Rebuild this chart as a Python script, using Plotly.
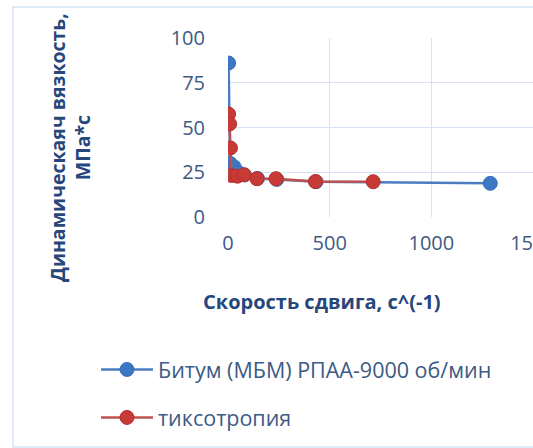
import plotly.graph_objects as go

# Data
bitum_x = [3, 10, 30, 50, 80, 145, 240, 433, 1290]
bitum_y = [86, 30, 28, 25, 23.5, 21.5, 21, 19.7, 18.8]
thixo_x = [3, 8, 12, 17, 46, 80, 142, 236, 430, 714]
thixo_y = [57.5, 52, 38.6, 23.2, 22.8, 23.6, 21.4, 21.4, 19.8, 19.7]

x_ticks = [0, 500, 1000, 1500]
y_ticks = [0, 25, 50, 75, 100]

names = ["Битум (МБМ) РПАА-9000 об/мин", "тиксотропия"]
x_title = "Скорость сдвига, с^(-1)"
y_title = "Динамическаяч вязкость,<br>МПа*с"

W, H = 533, 448
L, R, T, B = 228, 0, 38, 231

fig = go.Figure()
fig.add_trace(go.Scatter(
    x=bitum_x, y=bitum_y, mode="lines+markers", name=names[0], legendgroup="a",
    line=dict(color="#4A7CC2", width=2.5),
    marker=dict(color="#3C77C6", size=14, line=dict(color="#3A6FB5", width=1)),
))
fig.add_trace(go.Scatter(
    x=thixo_x, y=thixo_y, mode="lines+markers", name=names[1], legendgroup="b",
    line=dict(color="#C0504D", width=2.5),
    marker=dict(color="#C83A36", size=14, line=dict(color="#B03230", width=1)),
))

grid = "#D6E2F3"
tick_color = "#3D5A85"
title_color = "#26477C"
font_family = "Open Sans, Noto Sans, sans-serif"

fig.update_layout(
    width=W, height=H,
    margin=dict(l=L, r=R, t=T, b=B, pad=0, autoexpand=False),
    paper_bgcolor="white", plot_bgcolor="white",
    font=dict(family=font_family, color=tick_color),
    showlegend=True,
    legend=dict(
        xref="container", yref="container",
        x=96 / W, y=1 - 349 / H, xanchor="left", yanchor="top",
        font=dict(size=21.5, color=tick_color, family=font_family),
        tracegroupgap=17, traceorder="grouped", itemwidth=52,
        bgcolor="rgba(0,0,0,0)",
    ),
    xaxis=dict(
        range=[0, 1500], tickvals=x_ticks, ticktext=[str(v) for v in x_ticks],
        showgrid=True, gridcolor=grid, gridwidth=1, zeroline=False,
        showline=False, ticks="", ticklabelstandoff=12, automargin=False,
        tickangle=0, ticklabeloverflow="allow",
        tickfont=dict(size=20, color=tick_color),
    ),
    yaxis=dict(
        range=[0, 100], tickvals=y_ticks, ticktext=[str(v) for v in y_ticks],
        showgrid=True, gridcolor=grid, gridwidth=1, zeroline=False,
        showline=False, ticks="", ticklabelstandoff=22, automargin=False,
        tickfont=dict(size=20, color=tick_color),
    ),
    shapes=[
        dict(type="rect", xref="paper", yref="paper",
             x0=(13 - L) / (W - L - R), x1=1.2,
             y0=-(447 - (H - B)) / (H - T - B), y1=1 + (T - 7) / (H - T - B),
             line=dict(color="#D6E2F3", width=1.5), fillcolor="rgba(0,0,0,0)",
             layer="below"),
    ],
    annotations=[
        dict(text=x_title, xref="paper", yref="paper",
             x=(322 - L) / (W - L - R), y=-(301 - (H - B)) / (H - T - B),
             xanchor="center", yanchor="middle", showarrow=False,
             font=dict(size=20, color=title_color, family=font_family, weight="bold")),
        dict(text=y_title, xref="paper", yref="paper",
             x=(70 - L) / (W - L - R), y=1 - (148 - T) / (H - T - B),
             xanchor="center", yanchor="middle", showarrow=False, textangle=-90,
             font=dict(size=19.5, color=title_color, family=font_family, weight="bold")),
    ],
)

fig.write_html("out.html", config={"displayModeBar": False},
               post_script="document.body.style.margin='0';document.body.style.overflow='hidden';")
